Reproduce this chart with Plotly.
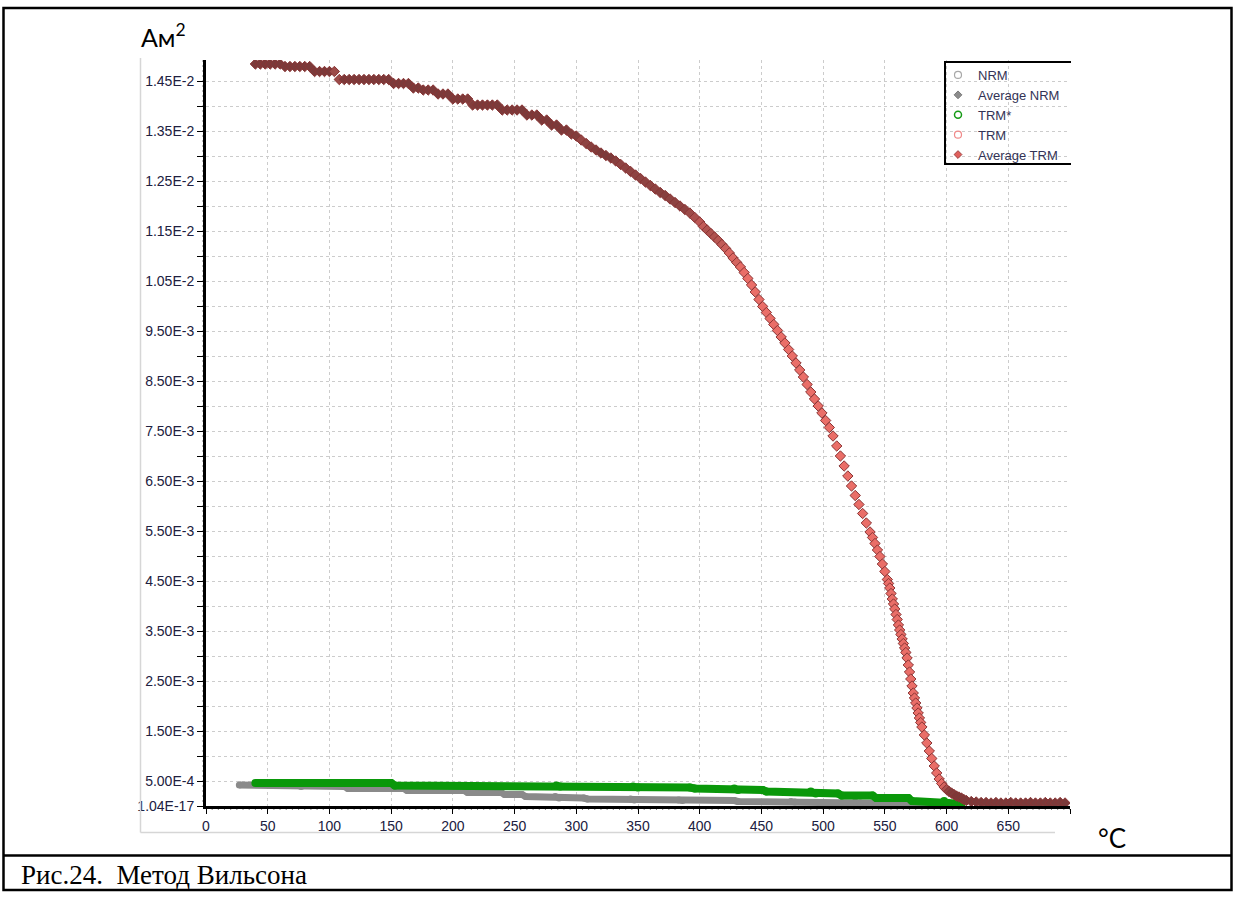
import plotly.graph_objects as go

# ---------------- data ----------------
# Average TRM (temperature in °C, moment in A·m²)
trm_temp = [
    40, 44, 48, 52, 56, 60, 64, 68, 72, 76, 80, 84, 88, 92, 96, 100, 104,
    108, 112, 116, 120, 124, 128, 132, 136, 140, 144, 148, 152, 156, 160, 164, 168, 172,
    176, 180, 184, 188, 192, 196, 200, 204, 208, 212, 216, 220, 224, 228, 232, 236,
    240, 244, 248, 252, 256, 260, 264, 268, 272, 276, 280, 284, 288, 292, 296,
    300, 304, 308, 312, 316, 320, 324, 328, 332, 336, 340, 344, 348, 352, 356, 360,
    364, 368, 372, 376, 380, 384, 388, 392, 396, 400,
    403, 406, 409, 412, 415, 418, 421, 424, 427, 430, 433, 436, 439, 442, 445, 448,
    451, 454, 457, 460, 463, 466, 469, 472, 475, 478, 481, 484, 487, 490, 493, 496,
    499, 502, 505, 508, 511, 514, 517, 520, 523, 526, 529, 532, 535, 538,
    540, 542, 544, 546, 548, 550, 552,
    553, 554, 555, 556, 557, 558, 559, 560, 561, 562, 563, 564, 565, 566, 567, 568,
    569, 570, 571, 572, 573, 574, 575, 576, 577, 578, 579, 580,
    582, 584, 586, 588, 590, 592, 594, 596, 598, 600, 602, 604, 606, 608, 610, 612, 614, 616,
    620, 624, 628, 632, 636, 640, 644, 648, 652, 656, 660, 664, 668, 672, 676, 680,
    684, 688, 692, 696,
]
trm_avg = [
    0.01484, 0.01484, 0.01484, 0.01484, 0.01484, 0.01484,
    0.01479, 0.01479, 0.01479, 0.01479, 0.01479, 0.01479,
    0.01469, 0.01469, 0.01469, 0.01469, 0.01469,
    0.01453, 0.01453, 0.01453, 0.01453, 0.01453, 0.01453, 0.01453, 0.01453, 0.01453, 0.01453, 0.01453,
    0.01445, 0.01445, 0.01445, 0.01445, 0.01436, 0.01436,
    0.01432, 0.01432, 0.01432, 0.01424, 0.01424, 0.01424,
    0.01414, 0.01414, 0.01414, 0.01414,
    0.01402, 0.01402, 0.01402, 0.01402, 0.01402, 0.01402,
    0.01392, 0.01392, 0.01392, 0.01392, 0.01392,
    0.01382, 0.01382, 0.01382, 0.01372, 0.01372, 0.01362, 0.01362, 0.01352, 0.01352, 0.01344,
    0.01340, 0.01332, 0.01325, 0.01318, 0.01312, 0.01306, 0.01301, 0.01296, 0.01290, 0.01283,
    0.01276, 0.01269, 0.01262, 0.01255, 0.01248, 0.01241, 0.01234, 0.01227, 0.01221, 0.01214,
    0.01207, 0.01200, 0.01193, 0.01186, 0.01177, 0.01168,
    0.01159, 0.01152, 0.01145, 0.01138, 0.01131, 0.01123, 0.01115, 0.01106, 0.01096, 0.01087,
    0.01078, 0.01067, 0.01055, 0.01042, 0.01028, 0.01013,
    0.00999, 0.00987, 0.00975, 0.00963, 0.00951, 0.00938, 0.00926, 0.00913, 0.00900, 0.00886,
    0.00872, 0.00858, 0.00843, 0.00828, 0.00814, 0.00800,
    0.00786, 0.00771, 0.00757, 0.00740, 0.00720, 0.00700, 0.00680, 0.00660, 0.00640, 0.00621,
    0.00603, 0.00585, 0.00566, 0.00548,
    0.00537, 0.00525, 0.00512, 0.00499, 0.00484, 0.00469, 0.00453,
    0.00445, 0.00436, 0.00425, 0.00414, 0.00404, 0.00394, 0.00383, 0.00373, 0.00362, 0.00352,
    0.00343, 0.00334, 0.00325, 0.00316, 0.00307, 0.00296,
    0.00282, 0.00268, 0.00254, 0.00240, 0.00226, 0.00216, 0.00206, 0.00196, 0.00186, 0.00176,
    0.00167, 0.00158,
    0.00142, 0.00126, 0.00110, 0.00095, 0.00080, 0.00066, 0.00054, 0.00045, 0.00038, 0.00033,
    0.00029, 0.00026, 0.00023, 0.00020, 0.00018, 0.00016, 0.00013, 0.00011,
    0.00009, 0.00008, 0.00007, 0.00007, 0.00006, 0.00007, 0.00006, 0.00006, 0.00007, 0.00006,
    0.00006, 0.00006, 0.00007, 0.00006, 0.00006, 0.00007, 0.00006, 0.00006, 0.00007, 0.00006,
]

# TRM* (step break points of the green series)
trm_star_temp = [40, 150, 153, 284, 287, 346, 350, 392, 396, 428, 431, 451,
                 454, 490, 494, 512, 515, 540, 543, 569, 572, 598, 601, 612]
trm_star_val = [0.00046, 0.00046, 0.00041, 0.00041, 0.00039, 0.00039, 0.00037, 0.00037,
                0.00035, 0.00035, 0.00032, 0.00032, 0.00029, 0.00029, 0.00025, 0.00025,
                0.00021, 0.00021, 0.00016, 0.00016, 0.00010, 0.00010, 0.00006, 0.00004]

# Average NRM (step break points of the grey series)
nrm_temp = [27, 74, 77, 112, 115, 160, 163, 209, 212, 239, 242, 256, 259, 283,
            286, 306, 309, 344, 347, 383, 386, 428, 431, 474, 477, 526, 530, 604]
nrm_avg = [0.00042, 0.00042, 0.00039, 0.00039, 0.00035, 0.00035, 0.00031, 0.00031,
           0.00027, 0.00027, 0.00023, 0.00023, 0.00019, 0.00019, 0.00016, 0.00016,
           0.00014, 0.00014, 0.00012, 0.00012, 0.00011, 0.00011, 0.00009, 0.00009,
           0.00008, 0.00008, 0.00006, 0.00004]

series_names = ["NRM", "Average NRM", "TRM*", "TRM", "Average TRM"]

x_tick_vals = [0, 50, 100, 150, 200, 250, 300, 350, 400, 450, 500, 550, 600, 650]
x_tick_text = ["0", "50", "100", "150", "200", "250", "300", "350", "400", "450",
               "500", "550", "600", "650"]

y_tick_vals = [0, 0.0005, 0.0015, 0.0025, 0.0035, 0.0045, 0.0055, 0.0065, 0.0075,
               0.0085, 0.0095, 0.0105, 0.0115, 0.0125, 0.0135, 0.0145]
y_tick_text = ["1.04E-17", "5.00E-4", "1.50E-3", "2.50E-3", "3.50E-3", "4.50E-3",
               "5.50E-3", "6.50E-3", "7.50E-3", "8.50E-3", "9.50E-3", "1.05E-2",
               "1.15E-2", "1.25E-2", "1.35E-2", "1.45E-2"]

assert len(trm_temp) == len(trm_avg)

# ---------------- geometry helpers (page pixels -> paper) ----------------
W, H = 1235, 898
PL, PR, PT, PB = 206, 1070, 60, 806
Y_MAX = (PB - PT) / 50000
X_MAX = 700


def px(x):
    return (x - PL) / (PR - PL)


def py(y):
    return (PB - y) / (PB - PT)


# local steepness -> marker shade (dense flat runs look dark in the original)
steep = []
n = len(trm_temp)
for i in range(n):
    a, b = max(i - 1, 0), min(i + 1, n - 1)
    steep.append(abs(trm_avg[b] - trm_avg[a]) / (trm_temp[b] - trm_temp[a]) * 1e5)

fig = go.Figure()

fig.add_trace(go.Scatter(
    x=nrm_temp, y=nrm_avg, mode="lines+markers", showlegend=False, hoverinfo="skip",
    line=dict(color="#8a8a8a", width=7),
    marker=dict(color="#8a8a8a", size=7),
))
fig.add_trace(go.Scatter(
    x=trm_star_temp, y=trm_star_val, mode="lines+markers", showlegend=False, hoverinfo="skip",
    line=dict(color="#0a980a", width=8),
    marker=dict(color="#0a980a", size=8),
))
fig.add_trace(go.Scatter(
    x=trm_temp, y=trm_avg, mode="markers", showlegend=False, hoverinfo="skip",
    marker=dict(symbol="diamond", size=8, color=steep,
                colorscale=[[0, "#7b3a3a"], [1, "#ea6e68"]], cmin=1.4, cmax=3.4,
                showscale=False, line=dict(color="#8a3535", width=1)),
))

# legend entries
legend_markers = [
    dict(symbol="circle-open", size=7, color="#a8a8a8", line=dict(width=1.2)),
    dict(symbol="diamond", size=6, color="#8c8c8c", line=dict(color="#7a7a7a", width=1)),
    dict(symbol="circle-open", size=7, color="#159a15", line=dict(width=1.5)),
    dict(symbol="circle-open", size=7, color="#f08a8a", line=dict(width=1.2)),
    dict(symbol="diamond", size=6, color="#e0605c", line=dict(color="#a04040", width=1)),
]
for k, (name, mk) in enumerate(zip(series_names, legend_markers)):
    fig.add_trace(go.Scatter(x=[None], y=[None], mode="markers", name=name,
                             marker=mk, legendrank=k + 1))

tick_font = dict(family="Liberation Sans, Arial, sans-serif", size=14, color="#202040")

# tiny axis ticks (every 0.0001 on y, every 5 °C on x)
tiny = []
k = 1
while k * 0.0001 < Y_MAX:
    tiny.append(dict(type="line", xref="paper", yref="y", x0=px(PL - 3.5), x1=px(PL),
                     y0=k * 0.0001, y1=k * 0.0001, line=dict(color="black", width=1)))
    k += 1
k = 1
while k * 5 <= X_MAX:
    tiny.append(dict(type="line", xref="x", yref="paper", x0=k * 5, x1=k * 5,
                     y0=py(PB), y1=py(PB + 3.5), line=dict(color="black", width=1)))
    k += 1

fig.update_layout(
    width=W, height=H,
    margin=dict(l=PL, r=W - PR, t=PT, b=H - PB),
    paper_bgcolor="white", plot_bgcolor="white",
    showlegend=True,
    legend=dict(x=px(938), y=py(60), xanchor="left", yanchor="top",
                bgcolor="rgba(0,0,0,0)", borderwidth=0, itemwidth=30,
                tracegroupgap=0,
                font=dict(family="Liberation Sans, Arial, sans-serif", size=13,
                          color="#333355")),
    xaxis=dict(range=[0, X_MAX], tickmode="array", tickvals=x_tick_vals, ticktext=x_tick_text,
               showgrid=True, gridcolor="#cccccc", griddash="dot", gridwidth=1,
               showline=True, linecolor="black", linewidth=3, zeroline=False,
               ticks="outside", ticklen=5, tickwidth=1, tickcolor="black",
               tickfont=tick_font, fixedrange=True,
               minor=dict(tickmode="linear", tick0=0, dtick=50, ticks="outside",
                          ticklen=5, tickcolor="black", tickwidth=1, showgrid=True,
                          gridcolor="#cccccc", griddash="dot", gridwidth=1)),
    yaxis=dict(range=[0, Y_MAX], tickmode="array", tickvals=y_tick_vals,
               ticktext=y_tick_text,
               showgrid=True, gridcolor="#cccccc", griddash="dot", gridwidth=1,
               showline=True, linecolor="black", linewidth=3, zeroline=False,
               ticks="outside", ticklen=6, tickwidth=1, tickcolor="black",
               tickfont=tick_font, fixedrange=True,
               minor=dict(tickmode="linear", tick0=0, dtick=0.0005, ticks="outside",
                          ticklen=6, tickcolor="black", tickwidth=1, showgrid=True,
                          gridcolor="#cccccc", griddash="dot", gridwidth=1)),
    shapes=[
        # page frame and caption separator
        dict(type="rect", xref="paper", yref="paper", x0=px(3.5), x1=px(1231.5),
             y0=py(890), y1=py(8), line=dict(color="black", width=2.5)),
        dict(type="line", xref="paper", yref="paper", x0=px(3.5), x1=px(1231.5),
             y0=py(855.5), y1=py(855.5), line=dict(color="black", width=2.5)),
        # faint chart-control frame
        dict(type="line", xref="paper", yref="paper", x0=px(140.5), x1=px(140.5),
             y0=py(832.5), y1=py(58), line=dict(color="#d6d6d6", width=1.5)),
        dict(type="line", xref="paper", yref="paper", x0=px(140.5), x1=px(1055),
             y0=py(832.5), y1=py(832.5), line=dict(color="#d6d6d6", width=1.5)),
        # legend box (top, left, bottom)
        dict(type="path", xref="paper", yref="paper",
             path="M {a},{b} L {c},{b} L {c},{d} L {a},{d}".format(
                 a=px(1071), b=py(62), c=px(945), d=py(164)),
             line=dict(color="black", width=2)),
    ] + tiny,
    annotations=[
        dict(text="Ам<sup>2</sup>", xref="paper", yref="paper", x=px(139), y=py(36),
             xanchor="left", yanchor="middle", showarrow=False,
             font=dict(family="Lato, Open Sans, sans-serif", size=25, color="black")),
        dict(text="°C", xref="paper", yref="paper", x=px(1112), y=py(838),
             xanchor="center", yanchor="middle", showarrow=False,
             font=dict(family="Lato, Open Sans, sans-serif", size=26, color="black")),
        dict(text="Рис.24.\u00a0 Метод Вильсона", xref="paper", yref="paper",
             x=px(19), y=py(875), xanchor="left", yanchor="middle", showarrow=False,
             font=dict(family="Liberation Serif, Times New Roman, serif", size=27,
                       color="black")),
    ],
)

fig.write_html(
    "out.html",
    include_plotlyjs=True,
    full_html=True,
    config={"displayModeBar": False},
    post_script="document.body.style.margin='0';document.body.style.overflow='hidden';",
)
